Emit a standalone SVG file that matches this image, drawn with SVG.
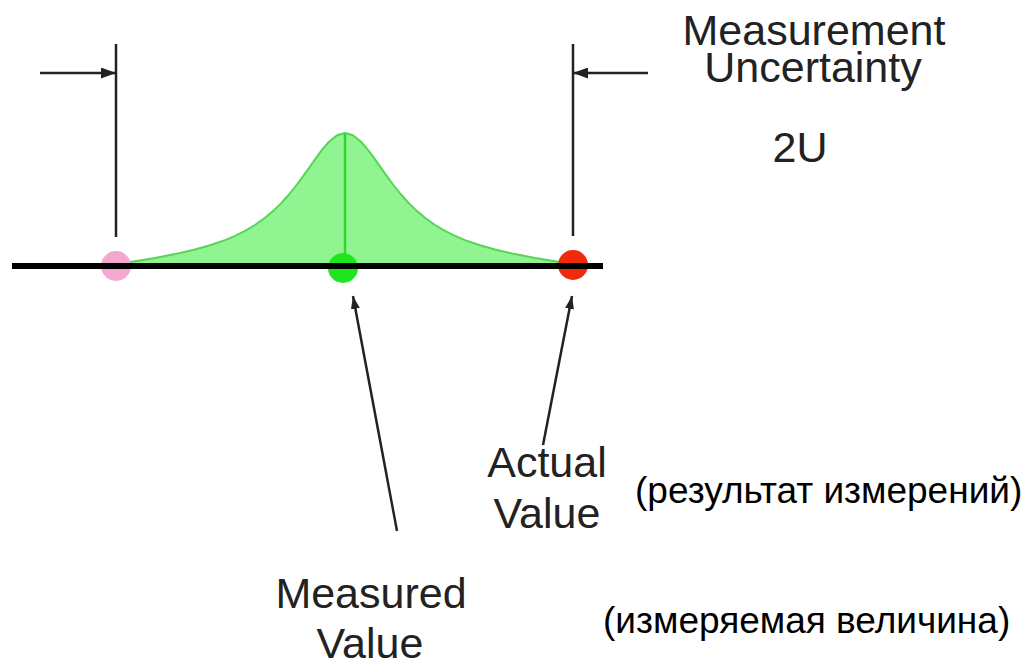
<svg xmlns="http://www.w3.org/2000/svg" width="1030" height="666" viewBox="0 0 1030 666">
  <style>
    .en { font-family: "Liberation Sans", Arial, sans-serif; font-size: 43px; fill: #222; text-anchor: middle; }
    .ru { font-family: "Liberation Sans", Arial, sans-serif; font-size: 37px; fill: #000; }
    .ln { stroke: #222; stroke-width: 2.5; fill: none; }
  </style>
  <defs>
    <marker id="ah" viewBox="0 0 15 11" refX="15" refY="5.5" markerWidth="15" markerHeight="11" markerUnits="userSpaceOnUse" orient="auto">
      <path d="M0,0 L15,5.5 L0,11 z" fill="#222"/>
    </marker>
    <marker id="ah2" viewBox="0 0 13 9" refX="13" refY="4.5" markerWidth="13" markerHeight="9" markerUnits="userSpaceOnUse" orient="auto">
      <path d="M0,0 L13,4.5 L0,9 z" fill="#222"/>
    </marker>
  </defs>
  <rect width="1030" height="666" fill="#fff"/>

  <g id="distribution">
    <path d="M116,264 L125,262.7 L135,261.2 L155,257.9 L175,254.1 L195,249.5 L210,245.3 L225,240.1 L235,235.9 L245,230.9 L255,225 L265,217.8 L273,211.1 L281,203.4 L289,194.5 L297,184.5 L305,173.6 L313,162.2 L321,151.2 L329,141.7 L337,135.3 L345,133 L353,135.3 L361,141.7 L369,151.2 L377,162.2 L385,173.6 L393,184.5 L401,194.5 L409,203.4 L417,211.1 L425,217.8 L435,225 L445,230.9 L455,235.9 L465,240.1 L480,245.3 L495,249.5 L515,254.1 L535,257.9 L555,261.2 L565,262.7 L573,264 Z" fill="#90f590" stroke="#55d455" stroke-width="2" stroke-linejoin="round"/>
    <line x1="345" y1="134" x2="345" y2="262" stroke="#2fd82f" stroke-width="2.5"/>
  </g>

  <g id="point-lower">
    <circle cx="116" cy="266" r="15" fill="#f5a8cf"/>
  </g>
  <g id="point-measured">
    <circle cx="343" cy="268" r="15" fill="#1ee61e"/>
  </g>
  <g id="point-actual">
    <circle cx="573" cy="265" r="15" fill="#f02a0c"/>
  </g>

  <g id="axis">
    <line x1="12" y1="266" x2="603" y2="266" stroke="#000" stroke-width="6"/>
  </g>

  <g id="connectors">
    <line class="ln" x1="116" y1="44" x2="116" y2="237"/>
    <line class="ln" x1="573" y1="44" x2="573" y2="236"/>
    <line class="ln" x1="40" y1="73" x2="116" y2="73" marker-end="url(#ah)"/>
    <line class="ln" x1="648" y1="73" x2="573" y2="73" marker-end="url(#ah)"/>
    <line class="ln" x1="397" y1="531" x2="353" y2="296" marker-end="url(#ah2)"/>
    <line class="ln" x1="543" y1="445" x2="572" y2="296" marker-end="url(#ah2)"/>
  </g>

  <g id="label-uncertainty">
    <text class="en" x="814" y="45">Measurement</text>
    <text class="en" x="813" y="82">Uncertainty</text>
    <text class="en" x="800" y="162">2U</text>
  </g>
  <g id="label-actual">
    <text class="en" x="547" y="477">Actual</text>
    <text class="en" x="547" y="528">Value</text>
  </g>
  <g id="label-measured">
    <text class="en" x="371" y="608">Measured</text>
    <text class="en" x="370" y="658">Value</text>
  </g>
  <g id="label-ru-result">
    <text class="ru" x="635" y="503">(результат измерений)</text>
  </g>
  <g id="label-ru-measurand">
    <text class="ru" x="603" y="633">(измеряемая величина)</text>
  </g>
</svg>
